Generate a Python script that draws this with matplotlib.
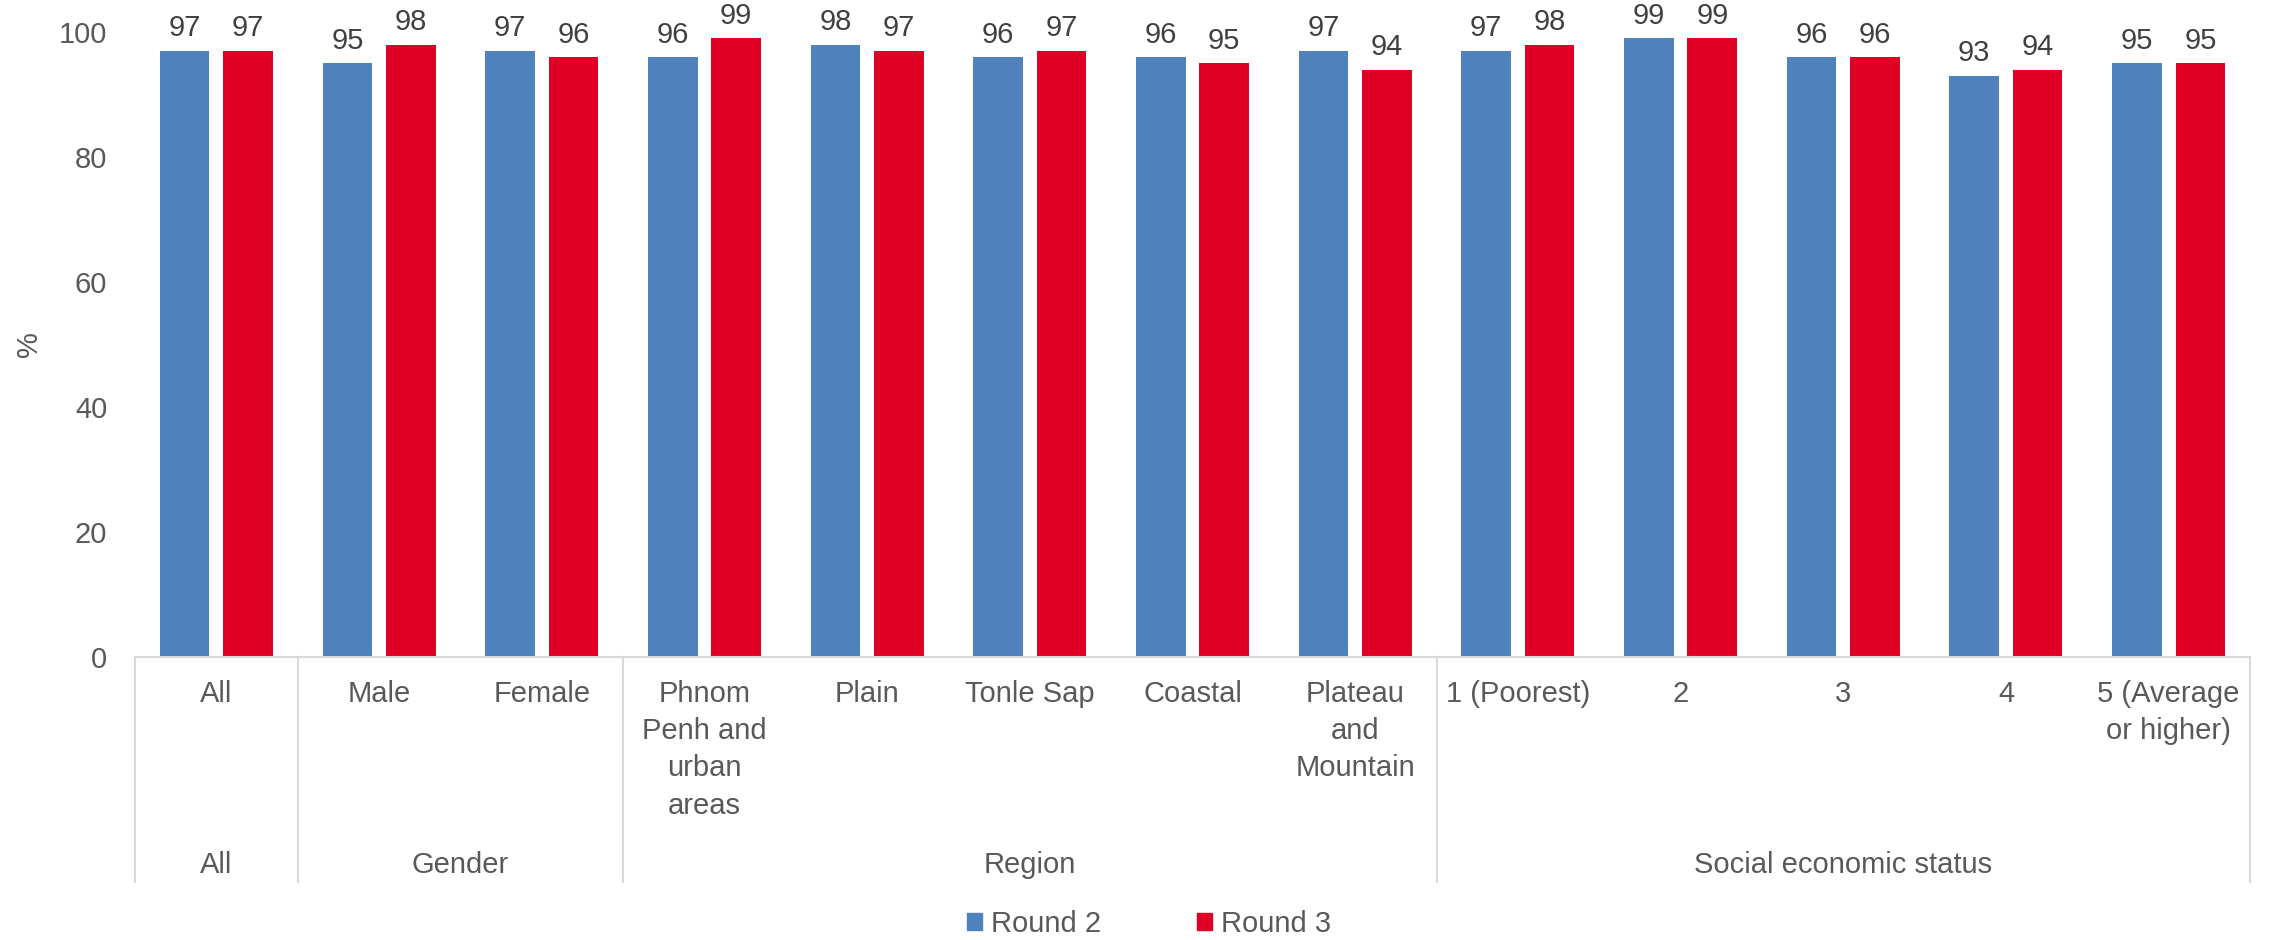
import matplotlib
matplotlib.use("Agg")
import matplotlib.pyplot as plt
from matplotlib.patches import Patch
from matplotlib.lines import Line2D
import numpy as np

plt.rcParams['font.family'] = ['Liberation Sans', 'DejaVu Sans']

categories = ["All", "Male", "Female", "Phnom\nPenh and\nurban\nareas", "Plain",
              "Tonle Sap", "Coastal", "Plateau\nand\nMountain", "1 (Poorest)", "2",
              "3", "4", "5 (Average\nor higher)"]
groups = ["All", "Gender", "Region", "Social economic status"]
group_sizes = [1, 2, 5, 5]
round2 = [97, 95, 97, 96, 98, 96, 96, 97, 97, 99, 96, 93, 95]
round3 = [97, 98, 96, 99, 97, 97, 95, 94, 98, 99, 96, 94, 95]
series_names = ["Round 2", "Round 3"]

BLUE = "#4F81BD"
RED = "#E00025"
TICK_COLOR = "#595959"
LABEL_COLOR = "#404040"
LINE_COLOR = "#D9D9D9"
FS = 21

W, H = 2272, 940
fig = plt.figure(figsize=(W / 100, H / 100), dpi=100)
left, right, top, base = 135, 2250, 32, 657
ax = fig.add_axes([left / W, 1 - base / H, (right - left) / W, (base - top) / H])

x = np.arange(len(categories))
bw = 0.305
off = 0.195
b2 = ax.bar(x - off, round2, bw, color=BLUE, label=series_names[0])
b3 = ax.bar(x + off, round3, bw, color=RED, label=series_names[1])

# value labels above each bar
for bars, vals in ((b2, round2), (b3, round3)):
    for rect, v in zip(bars, vals):
        ax.annotate(f"{v}", (rect.get_x() + rect.get_width() / 2, v),
                    xytext=(0, 6), textcoords="offset points",
                    ha="center", va="bottom", fontsize=FS, color=LABEL_COLOR,
                    annotation_clip=False)

ax.set_xlim(-0.5, len(categories) - 0.5)
ax.set_ylim(0, 100)
ax.set_yticks(range(0, 101, 20))
ax.tick_params(axis="y", length=0, pad=20, labelsize=FS, labelcolor=TICK_COLOR)
ax.set_xticks([])
for s in ("top", "right", "left"):
    ax.spines[s].set_visible(False)
ax.spines["bottom"].set_color(LINE_COLOR)
ax.spines["bottom"].set_linewidth(1.5)

ph = base - top
trans = ax.get_xaxis_transform()

# category labels (first level of the axis)
for xi, lab in zip(x, categories):
    ax.text(xi, (base - 680) / ph, lab,
            transform=trans, ha="center", va="top", fontsize=FS,
            color=TICK_COLOR, linespacing=1.42)

# group separators and group labels (second level of the axis)
bounds = np.concatenate([[0], np.cumsum(group_sizes)]) - 0.5
for b in bounds:
    ax.add_line(Line2D([b, b], [0, (base - 882) / ph], transform=trans,
                       color=LINE_COLOR, lw=1.5, clip_on=False))
for g, a, b in zip(groups, bounds[:-1], bounds[1:]):
    ax.text((a + b) / 2, (base - 865) / ph, g, transform=trans,
            ha="center", va="center", fontsize=FS, color=TICK_COLOR)

fig.text(29 / W, 1 - 344 / H, "%", rotation=90, ha="center", va="center",
         fontsize=FS, color=TICK_COLOR)

handles = [Patch(color=BLUE, label=series_names[0]),
           Patch(color=RED, label=series_names[1])]
leg = fig.legend(handles=handles, loc="center", bbox_to_anchor=(1149 / W, 1 - 924 / H),
                 ncol=2, frameon=False, fontsize=FS, handlelength=0.52,
                 handleheight=0.52, handletextpad=0.3, columnspacing=3.3,
                 borderpad=0, borderaxespad=0)
for t in leg.get_texts():
    t.set_color(TICK_COLOR)

fig.savefig("out.png", dpi=100)
